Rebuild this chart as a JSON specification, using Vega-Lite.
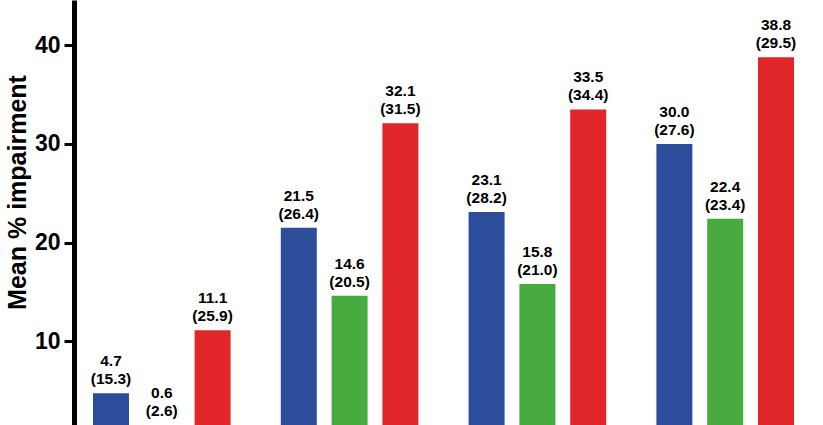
{
  "$schema": "https://vega.github.io/schema/vega-lite/v6.json",
  "autosize": "none",
  "padding": {"left": 74, "top": 0, "right": 0, "bottom": 0},
  "width": 739,
  "height": 425,
  "background": "white",
  "config": {"view": {"stroke": null}, "font": "Liberation Sans"},
  "data": {
    "values": [
      {"group": "G1", "series": "A", "mean": 4.7, "sd": 15.3},
      {"group": "G1", "series": "B", "mean": 0.6, "sd": 2.6},
      {"group": "G1", "series": "C", "mean": 11.1, "sd": 25.9},
      {"group": "G2", "series": "A", "mean": 21.5, "sd": 26.4},
      {"group": "G2", "series": "B", "mean": 14.6, "sd": 20.5},
      {"group": "G2", "series": "C", "mean": 32.1, "sd": 31.5},
      {"group": "G3", "series": "A", "mean": 23.1, "sd": 28.2},
      {"group": "G3", "series": "B", "mean": 15.8, "sd": 21.0},
      {"group": "G3", "series": "C", "mean": 33.5, "sd": 34.4},
      {"group": "G4", "series": "A", "mean": 30.0, "sd": 27.6},
      {"group": "G4", "series": "B", "mean": 22.4, "sd": 23.4},
      {"group": "G4", "series": "C", "mean": 38.8, "sd": 29.5}
    ]
  },
  "encoding": {
    "x": {"field": "group", "type": "nominal", "axis": null,
          "scale": {"paddingInner": 0.1, "paddingOuter": 0.0175}},
    "xOffset": {"field": "series", "type": "nominal",
                "scale": {"paddingInner": 0.2913, "paddingOuter": 0.309}},
    "y": {"field": "mean", "type": "quantitative",
          "scale": {"domain": [1.48, 44.61], "nice": false, "zero": false, "clamp": true},
          "axis": {
            "title": "Mean % impairment",
            "values": [10, 20, 30, 40],
            "grid": false,
            "domainColor": "black", "domainWidth": 5, "domainCap": "butt",
            "tickColor": "black", "tickWidth": 3, "tickSize": 10,
            "labelFont": "Liberation Sans", "labelFontWeight": "bold", "labelFontSize": 23,
            "labelColor": "black", "labelPadding": 4,
            "titleFont": "Liberation Sans", "titleFontWeight": "bold", "titleFontSize": 25,
            "titleColor": "black", "titleAngle": 270, "titleAlign": "center",
            "titleBaseline": "alphabetic", "titleX": -49, "titleY": 192
          }}
  },
  "layer": [
    {
      "mark": {"type": "bar", "clip": true},
      "encoding": {
        "color": {"field": "series", "type": "nominal", "legend": null,
                  "scale": {"domain": ["A", "B", "C"], "range": ["#2c4d9a", "#47ab3f", "#e1272a"]}}
      }
    },
    {
      "mark": {"type": "text", "dy": -9, "baseline": "alphabetic", "fontSize": 15.5,
               "fontWeight": "bold", "font": "Liberation Sans", "color": "black",
               "text": {"expr": "'(' + format(datum.sd, '.1f') + ')'"}},
      "encoding": {}
    },
    {
      "mark": {"type": "text", "dy": -27, "baseline": "alphabetic", "fontSize": 15.5,
               "fontWeight": "bold", "font": "Liberation Sans", "color": "black"},
      "encoding": {"text": {"field": "mean", "type": "quantitative", "format": ".1f"}}
    }
  ]
}
